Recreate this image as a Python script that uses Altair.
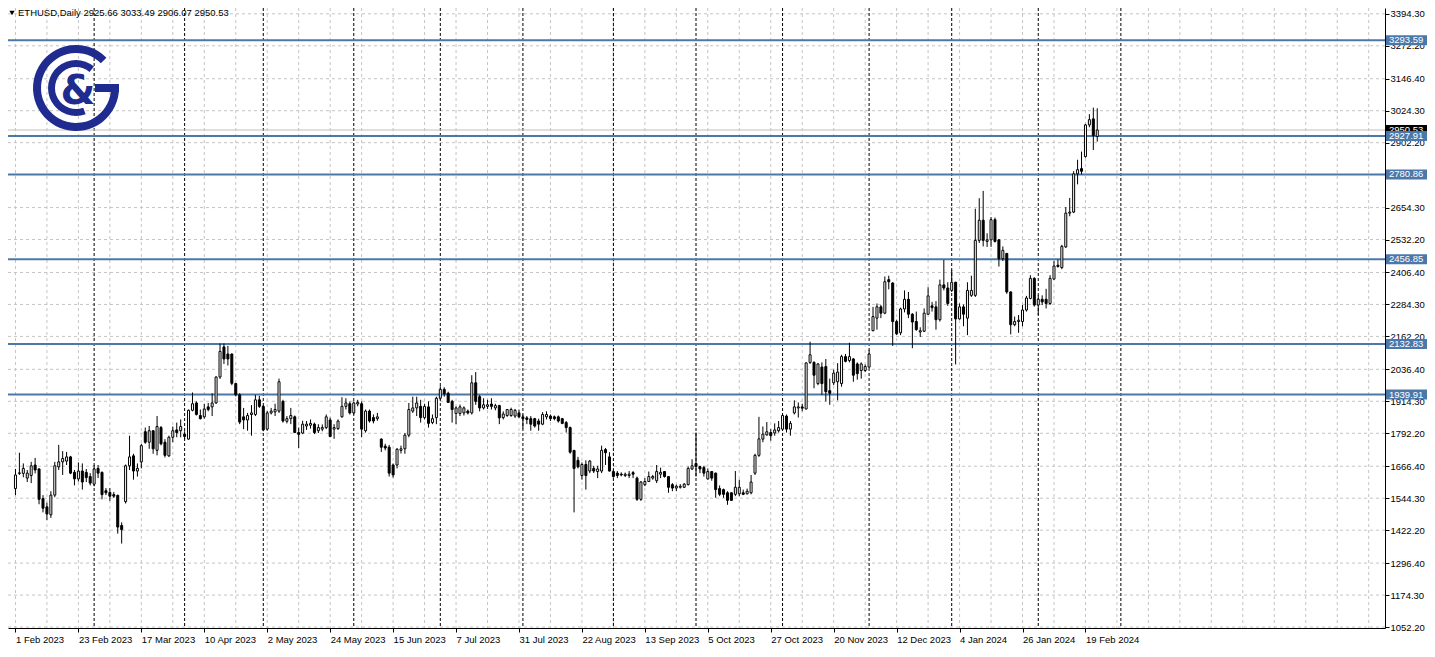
import altair as alt
import pandas as pd

# ---------------- data ----------------
symbol = "ETHUSD,Daily"

opens = [1581,1639,1639,1621,1631,1671,1656,1543,1511,1481,
         1556,1664,1683,1686,1702,1643,1618,1648,1643,1627,
         1598,1658,1643,1573,1566,1558,1555,1440,1531,1668,
         1706,1648,1683,1798,1758,1802,1727,1814,1758,1706,
         1777,1805,1802,1789,1770,1880,1908,1860,1855,1893,
         1893,1908,2007,2122,2095,2095,1982,1939,1855,1843,
         1864,1864,1920,1895,1808,1870,1874,1877,1914,1838,
         1848,1855,1795,1793,1820,1823,1827,1802,1808,1814,
         1843,1808,1810,1855,1895,1905,1870,1904,1905,1802,
         1877,1852,1848,1770,1743,1739,1671,1671,1727,1733,
         1785,1877,1889,1895,1852,1893,1833,1852,1926,1960,
         1945,1914,1868,1868,1870,1877,1870,1985,1932,1889,
         1895,1904,1889,1898,1852,1860,1860,1858,1870,1855,
         1851,1848,1848,1839,1827,1855,1858,1855,1855,1848,
         1833,1814,1727,1689,1631,1673,1648,1658,1646,1648,
         1730,1702,1646,1640,1636,1631,1631,1642,1621,1540,
         1596,1608,1621,1611,1636,1646,1627,1596,1583,1586,
         1586,1596,1656,1677,1665,1661,1618,1646,1640,1581,
         1577,1565,1565,1559,1561,1565,1561,1565,1640,1708,
         1770,1786,1795,1793,1802,1808,1858,1808,1870,1889,
         1893,1885,2063,2063,1982,2045,2047,1955,1985,1989,
         1982,2085,2070,2076,2057,2032,2032,2045,2184,2232,
         2275,2251,2379,2366,2219,2176,2267,2304,2247,2219,
         2179,2182,2247,2279,2275,2226,2359,2347,2338,2369,
         2229,2275,2232,2319,2319,2529,2606,2525,2531,2608,
         2531,2459,2479,2332,2207,2219,2219,2263,2307,2384,
         2282,2304,2304,2288,2381,2434,2425,2504,2633,2637,
         2783,2803,2849,2970,2993,2925.66]

highs = [1656,1718,1677,1652,1683,1698,1658,1556,1527,1571,
         1683,1748,1724,1721,1706,1652,1681,1677,1656,1640,
         1671,1671,1646,1583,1583,1568,1558,1452,1673,1783,
         1714,1677,1752,1814,1820,1802,1858,1820,1770,1783,
         1818,1833,1845,1800,1883,1948,1914,1883,1905,1908,
         1945,2010,2135,2135,2126,2097,1985,1945,1889,1870,
         1900,1939,1935,1900,1877,1889,1905,2001,1920,1858,
         1889,1860,1814,1840,1839,1845,1833,1827,1826,1864,
         1852,1827,1845,1930,1926,1914,1914,1920,1914,1883,
         1883,1864,1870,1773,1752,1748,1677,1736,1745,1793,
         1908,1932,1932,1920,1905,1914,1864,1932,1972,1968,
         1951,1920,1895,1902,1895,1883,2014,2026,1939,1926,
         1920,1926,1905,1901,1876,1885,1890,1885,1883,1864,
         1858,1858,1851,1848,1873,1876,1864,1860,1860,1851,
         1839,1818,1727,1702,1681,1689,1690,1668,1668,1745,
         1736,1720,1652,1648,1643,1642,1648,1648,1627,1610,
         1621,1646,1633,1671,1661,1648,1627,1602,1596,1598,
         1602,1665,1693,1795,1668,1668,1658,1648,1642,1593,
         1581,1571,1565,1648,1615,1577,1581,1633,1714,1855,
         1818,1835,1808,1830,1839,1864,1864,1839,1918,1910,
         1905,2063,2142,2067,2060,2063,2076,2001,2035,2060,
         2092,2095,2138,2080,2063,2063,2055,2110,2275,2288,
         2282,2391,2394,2369,2226,2272,2338,2332,2251,2257,
         2197,2269,2350,2294,2297,2379,2454,2369,2416,2371,
         2288,2284,2369,2394,2650,2690,2718,2556,2618,2616,
         2534,2506,2481,2334,2238,2244,2282,2317,2396,2388,
         2319,2319,2344,2396,2450,2456,2512,2656,2691,2793,
         2837,2868,2974,3011,3036,3033.49]

lows = [1556,1633,1624,1606,1602,1639,1521,1490,1461,1469,
        1548,1652,1633,1671,1636,1593,1608,1577,1606,1593,
        1590,1621,1540,1556,1534,1545,1409,1371,1524,1652,
        1615,1627,1658,1752,1733,1714,1708,1746,1700,1702,
        1758,1777,1777,1770,1768,1876,1860,1845,1848,1876,
        1858,1905,2000,2057,2051,1976,1933,1827,1808,1802,
        1783,1858,1889,1800,1802,1864,1858,1870,1833,1830,
        1827,1793,1736,1789,1805,1810,1789,1793,1800,1808,
        1777,1771,1805,1852,1883,1864,1864,1895,1777,1795,
        1833,1830,1840,1721,1727,1627,1623,1658,1715,1714,
        1777,1870,1858,1833,1845,1814,1827,1827,1920,1932,
        1908,1833,1827,1858,1860,1864,1864,1901,1876,1883,
        1885,1883,1880,1827,1845,1855,1855,1851,1851,1810,
        1827,1802,1814,1802,1823,1845,1839,1842,1833,1827,
        1795,1714,1490,1658,1615,1577,1640,1640,1621,1640,
        1671,1646,1623,1621,1628,1625,1621,1621,1534,1534,
        1590,1606,1615,1602,1621,1623,1565,1571,1571,1581,
        1583,1593,1652,1627,1640,1627,1615,1611,1546,1552,
        1546,1519,1534,1552,1552,1556,1559,1559,1633,1702,
        1758,1783,1764,1783,1795,1805,1795,1783,1864,1852,
        1876,1883,2057,1964,1976,1939,1914,1901,1976,1918,
        1970,2063,2063,1989,1997,2001,2026,2042,2182,2188,
        2232,2247,2342,2126,2167,2167,2254,2232,2117,2184,
        2160,2179,2244,2257,2188,2219,2338,2279,2332,2055,
        2226,2201,2167,2313,2313,2519,2506,2504,2504,2521,
        2429,2450,2325,2170,2201,2176,2201,2257,2304,2276,
        2244,2282,2269,2282,2379,2425,2419,2500,2621,2633,
        2743,2781,2845,2961,2874,2906.07]

closes = [1633,1641,1658,1640,1668,1652,1540,1506,1484,1556,
          1668,1683,1696,1702,1640,1618,1648,1606,1623,1602,
          1656,1640,1558,1565,1552,1552,1434,1424,1668,1702,
          1648,1658,1745,1758,1802,1733,1818,1752,1708,1777,
          1802,1795,1818,1780,1880,1905,1864,1848,1885,1883,
          1908,2007,2105,2076,2076,1983,1939,1835,1843,1860,
          1870,1920,1895,1805,1870,1877,1883,1989,1839,1848,
          1860,1795,1788,1827,1827,1830,1795,1814,1814,1855,
          1780,1814,1839,1895,1908,1870,1908,1910,1808,1877,
          1839,1839,1855,1739,1736,1640,1633,1731,1733,1785,
          1883,1889,1908,1852,1895,1830,1848,1926,1960,1943,
          1910,1883,1889,1893,1889,1870,1985,1914,1889,1901,
          1901,1895,1898,1851,1866,1883,1883,1880,1855,1848,
          1845,1827,1820,1827,1864,1864,1848,1848,1839,1830,
          1814,1720,1658,1664,1673,1631,1686,1648,1656,1727,
          1718,1648,1627,1631,1633,1636,1636,1636,1540,1606,
          1608,1627,1627,1646,1643,1627,1586,1583,1590,1590,
          1598,1658,1668,1665,1656,1640,1646,1621,1577,1559,
          1559,1536,1536,1586,1586,1559,1571,1606,1708,1771,
          1789,1798,1783,1805,1814,1860,1808,1830,1893,1893,
          1888,2061,2092,2014,2057,1982,1951,1945,2022,2026,
          2085,2067,2085,2014,2020,2057,2047,2095,2238,2275,
          2251,2371,2371,2219,2172,2267,2304,2247,2217,2188,
          2184,2251,2317,2272,2226,2359,2347,2288,2369,2229,
          2275,2247,2338,2338,2529,2606,2529,2531,2608,2525,
          2459,2491,2332,2207,2219,2224,2263,2309,2384,2282,
          2304,2294,2288,2384,2431,2429,2506,2633,2637,2783,
          2799,2793,2970,2990,2930,2950.53]

date_labels = ["1 Feb 2023", "23 Feb 2023", "17 Mar 2023", "10 Apr 2023",
               "2 May 2023", "24 May 2023", "15 Jun 2023", "7 Jul 2023",
               "31 Jul 2023", "22 Aug 2023", "13 Sep 2023", "5 Oct 2023",
               "27 Oct 2023", "20 Nov 2023", "12 Dec 2023", "4 Jan 2024",
               "26 Jan 2024", "19 Feb 2024"]
date_label_bars = [0, 16, 32, 48, 64, 80, 96, 112, 128, 144, 160, 176,
                   192, 208, 224, 240, 256, 272]
month_start_bars = [20, 43, 63, 86, 108, 129, 152, 173, 195, 217, 238, 260, 281]
grid_bars = list(range(0, 345, 8))

price_ticks = [1052.20, 1174.30, 1296.40, 1422.20, 1544.30, 1666.40, 1792.20,
               1914.30, 2036.40, 2162.20, 2284.30, 2406.40, 2532.20, 2654.30,
               2780.40, 2902.20, 3024.30, 3146.40, 3272.20, 3394.30]
levels = [3293.59, 2927.91, 2780.86, 2456.85, 2132.83, 1939.91]

# ---------------- styling ----------------
W, H = 1377, 620
FONT = "Liberation Sans"
FS = 9.5
BLUE = "#4b78a8"
NAVY = "#1f2b8e"
GRID = "#c4c4c4"

xs = alt.Scale(domain=[-0.625, 346.875], nice=False, zero=False)
ys = alt.Scale(domain=[1048.5, 3416.5], nice=False, zero=False)

label_expr = "[" + ",".join("'%s'" % s for s in date_labels) + "][round(datum.value / 16)]"

x_axis = alt.Axis(orient="bottom", values=date_label_bars, labelExpr=label_expr,
                  labelAlign="left", labelBaseline="top", labelFont=FONT,
                  labelFontSize=FS, labelColor="black", labelPadding=2,
                  labelOverlap=False, labelFlush=False, tickColor="black",
                  tickSize=4, domainColor="black", domainWidth=1, grid=False,
                  title=None)
y_axis = alt.Axis(orient="right", values=price_ticks, format=".2f",
                  labelFont=FONT, labelFontSize=FS, labelColor="black",
                  labelPadding=1, labelOverlap=False, labelFlush=False,
                  tickColor="black", tickSize=4, domainColor="black",
                  domainWidth=1, grid=False, title=None)

n = len(opens)
candles = pd.DataFrame({"i": list(range(n)), "o": opens, "h": highs,
                        "l": lows, "c": closes})
last = pd.DataFrame({"p": [closes[-1]]})
lev_df = pd.DataFrame({"p": levels})

hgrid = alt.Chart(pd.DataFrame({"p": price_ticks})).mark_rule(
    color=GRID, strokeDash=[3, 3], strokeWidth=1).encode(
    y=alt.Y("p:Q", scale=ys, axis=y_axis), x=alt.value(0), x2=alt.value(W))

vgrid = alt.Chart(pd.DataFrame({"g": grid_bars})).mark_rule(
    color=GRID, strokeDash=[3, 3], strokeWidth=1).encode(
    x=alt.X("g:Q", scale=xs, axis=x_axis), y=alt.value(0), y2=alt.value(H))

seps = alt.Chart(pd.DataFrame({"s": month_start_bars})).mark_rule(
    color="black", strokeDash=[3, 2], strokeWidth=1).encode(
    x=alt.X("s:Q", scale=xs, axis=x_axis), y=alt.value(0), y2=alt.value(H))

last_line = alt.Chart(last).mark_rule(color="#c0c0c0", strokeWidth=1).encode(
    y=alt.Y("p:Q", scale=ys, axis=y_axis), x=alt.value(0), x2=alt.value(W))

level_lines = alt.Chart(lev_df).mark_rule(color=BLUE, strokeWidth=2).encode(
    y=alt.Y("p:Q", scale=ys, axis=y_axis), x=alt.value(0), x2=alt.value(W))

wicks = alt.Chart(candles).mark_rule(color="black", strokeWidth=1).encode(
    x=alt.X("i:Q", scale=xs, axis=x_axis),
    y=alt.Y("l:Q", scale=ys, axis=y_axis), y2="h:Q")

bodies = alt.Chart(candles).mark_bar(size=2, stroke="black", strokeWidth=1,
                                     opacity=1).encode(
    x=alt.X("i:Q", scale=xs, axis=x_axis),
    y=alt.Y("o:Q", scale=ys, axis=y_axis), y2="c:Q",
    fill=alt.condition("datum.c >= datum.o", alt.value("white"), alt.value("black")))

BX0, BX1 = W + 1, W + 42
last_box = alt.Chart(last).mark_rect(color="black", yOffset=-5, y2Offset=5).encode(
    y=alt.Y("p:Q", scale=ys, axis=y_axis), y2="p:Q",
    x=alt.value(BX0), x2=alt.value(BX1))
last_txt = alt.Chart(last).mark_text(align="left", baseline="middle", color="white",
                                     font=FONT, fontSize=FS).encode(
    y=alt.Y("p:Q", scale=ys, axis=y_axis), x=alt.value(BX0 + 3),
    text=alt.Text("p:Q", format=".2f"))

lev_box = alt.Chart(lev_df).mark_rect(color=BLUE, yOffset=-5, y2Offset=5).encode(
    y=alt.Y("p:Q", scale=ys, axis=y_axis), y2="p:Q",
    x=alt.value(BX0), x2=alt.value(BX1))
lev_txt = alt.Chart(lev_df).mark_text(align="left", baseline="middle", color="white",
                                      font=FONT, fontSize=FS).encode(
    y=alt.Y("p:Q", scale=ys, axis=y_axis), x=alt.value(BX0 + 3),
    text=alt.Text("p:Q", format=".2f"))

title_str = "%s  %.2f %.2f %.2f %.2f" % (symbol, opens[-1], highs[-1], lows[-1], closes[-1])
title_df = pd.DataFrame({"t": [title_str]})
title_txt = alt.Chart(title_df).mark_text(align="left", baseline="middle",
                                          font=FONT, fontSize=9.5, color="black").encode(
    x=alt.value(10), y=alt.value(5), text="t:N")
tri = alt.Chart(title_df).mark_point(shape="triangle-down", filled=True, size=28,
                                     color="black", opacity=1).encode(
    x=alt.value(4), y=alt.value(5))

# logo (decoration)
LX, LY = 68, 80
logo_df = pd.DataFrame({"t": ["&"]})
outer_arc = alt.Chart(logo_df).mark_arc(innerRadius=35, outerRadius=43,
                                        theta=1.571, theta2=7.07, color=NAVY).encode(
    x=alt.value(LX), y=alt.value(LY))
inner_arc = alt.Chart(logo_df).mark_arc(innerRadius=21, outerRadius=28,
                                        theta=2.79, theta2=6.98, color=NAVY).encode(
    x=alt.value(LX), y=alt.value(LY))
g_bar = alt.Chart(logo_df).mark_rect(color=NAVY).encode(
    x=alt.value(LX + 19), x2=alt.value(LX + 43), y=alt.value(LY - 4), y2=alt.value(LY + 4))
amp = alt.Chart(logo_df).mark_text(font="DejaVu Sans", fontWeight="bold", fontSize=40,
                                   color=NAVY, align="center", baseline="middle").encode(
    x=alt.value(LX + 2), y=alt.value(LY + 4), text="t:N")

chart = alt.layer(
    hgrid, vgrid, seps, last_line, level_lines, wicks, bodies,
    last_box, last_txt, lev_box, lev_txt, outer_arc, inner_arc, g_bar, amp,
    tri, title_txt
).properties(
    width=W, height=H, autosize="none",
    padding={"left": 0, "top": 0, "right": 42, "bottom": 21},
    background="white"
).configure_view(strokeWidth=0)

chart.save("out.html", embed_options={"renderer": "svg", "actions": False})
